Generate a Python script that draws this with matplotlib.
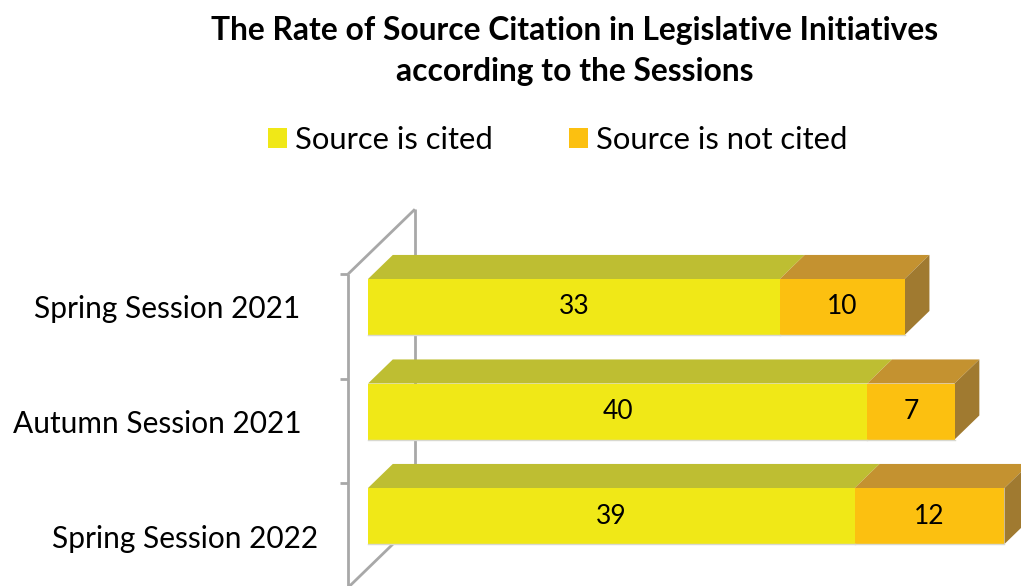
import matplotlib
matplotlib.use('Agg')
import matplotlib.pyplot as plt
from matplotlib.patches import Polygon, Rectangle, Patch

plt.rcParams['font.family'] = ['Lato', 'DejaVu Sans']

# Data
sessions = ['Spring Session 2021', 'Autumn Session 2021', 'Spring Session 2022']
cited = [33, 40, 39]
not_cited = [10, 7, 12]
series_names = ['Source is cited', 'Source is not cited']

# Face colours: front, top, side
YELLOW = ('#F0E817', '#BEBE32', '#9E9E2A')
ORANGE = ('#FCC010', '#C49230', '#A07A30')
WALL = '#A8A8A8'

W, H, DPI = 1021, 586, 100
fig = plt.figure(figsize=(W / DPI, H / DPI), dpi=DPI)
ax = fig.add_axes([0, 0, 1, 1])
ax.set_axis_off()

# scale: pixels per value unit / per category slot
px_per_val = 12.48
px_per_cat = 104.5
x0_px, y0_px = 368, 307
ax.set_xlim(-x0_px / px_per_val, (W - x0_px) / px_per_val)
ax.set_ylim((H - y0_px) / px_per_cat, -y0_px / px_per_cat)

# oblique depth of the whole wall, in data units
DEPTH_X = 67 / px_per_val
DEPTH_Y = -65 / px_per_cat
BAR_FRONT, BAR_BACK = 0.3, 0.67   # bar position within the wall depth
half_h = 28 / px_per_cat


def at_depth(x, y, d):
    return x + (d - BAR_FRONT) * DEPTH_X, y + (d - BAR_FRONT) * DEPTH_Y


# back wall outline
n = len(sessions)
y_top, y_bot = -0.5, n - 0.5
fx_t, fy_t = at_depth(0, y_top, 0)
fx_b, fy_b = at_depth(0, y_bot, 0)
bx_t, by_t = at_depth(0, y_top, 1)
bx_b, by_b = at_depth(0, y_bot, 1)
line_kw = dict(color=WALL, lw=2.0, solid_capstyle='butt', zorder=1)
ax.plot([fx_t, fx_b], [fy_t, fy_b + 0.3], **line_kw)
ax.plot([bx_t, bx_b], [by_t, by_b], **line_kw)
ax.plot([fx_t, bx_t], [fy_t, by_t], **line_kw)
ax.plot([fx_b, bx_b], [fy_b, by_b], **line_kw)
tick_len = 8 / px_per_val
for k in range(n + 1):
    tx, ty = at_depth(0, k - 0.5, 0)
    ax.plot([tx - tick_len, tx], [ty, ty], **line_kw)

ddx = (BAR_BACK - BAR_FRONT) * DEPTH_X
ddy = (BAR_BACK - BAR_FRONT) * DEPTH_Y


def draw_segment(y, x_start, x_end, colors, side=False):
    front, top, side_c = colors
    top_y = y - half_h
    ax.add_patch(Polygon([(x_start, top_y), (x_end, top_y),
                          (x_end + ddx, top_y + ddy), (x_start + ddx, top_y + ddy)],
                         closed=True, facecolor=top, edgecolor='none', zorder=3))
    if side:
        ax.add_patch(Polygon([(x_end, top_y), (x_end + ddx, top_y + ddy),
                              (x_end + ddx, y + half_h + ddy), (x_end, y + half_h)],
                             closed=True, facecolor=side_c, edgecolor='none', zorder=3))
    ax.add_patch(Rectangle((x_start, top_y), x_end - x_start, 2 * half_h,
                           facecolor=front, edgecolor='none', zorder=4))
    ax.plot([x_start, x_end], [y + half_h, y + half_h], color='#D8D8D0', lw=1.0, zorder=5)


for i, (a, b) in enumerate(zip(cited, not_cited)):
    draw_segment(i, 0, a, YELLOW)
    draw_segment(i, a, a + b, ORANGE, side=True)
    ax.text(a / 2, i, str(a), ha='center', va='center', fontsize=19, color='black', zorder=6)
    ax.text(a + b / 2, i, str(b), ha='center', va='center', fontsize=19, color='black', zorder=6)

# category labels sit along the oblique front edge
label_x = [(300 - x0_px) / px_per_val, (302 - x0_px) / px_per_val, (318 - x0_px) / px_per_val]
label_y = [0.02, 1.12, 2.22]
for name, lx, ly in zip(sessions, label_x, label_y):
    ax.text(lx, ly, name, ha='right', va='center', fontsize=21.5, color='black')

fig.text(0.563, 0.913, 'The Rate of Source Citation in Legislative Initiatives\naccording to the Sessions',
         ha='center', va='center', fontsize=22.9, fontweight='bold', linespacing=1.5)

handles = [Patch(facecolor=YELLOW[0]), Patch(facecolor=ORANGE[0])]
fig.legend(handles, series_names, loc='center', bbox_to_anchor=(0.546, 0.761), ncol=2,
           frameon=False, fontsize=22.3, handlelength=0.62, handleheight=0.62,
           handletextpad=0.25, columnspacing=2.45)

fig.savefig('out.png', dpi=DPI)
